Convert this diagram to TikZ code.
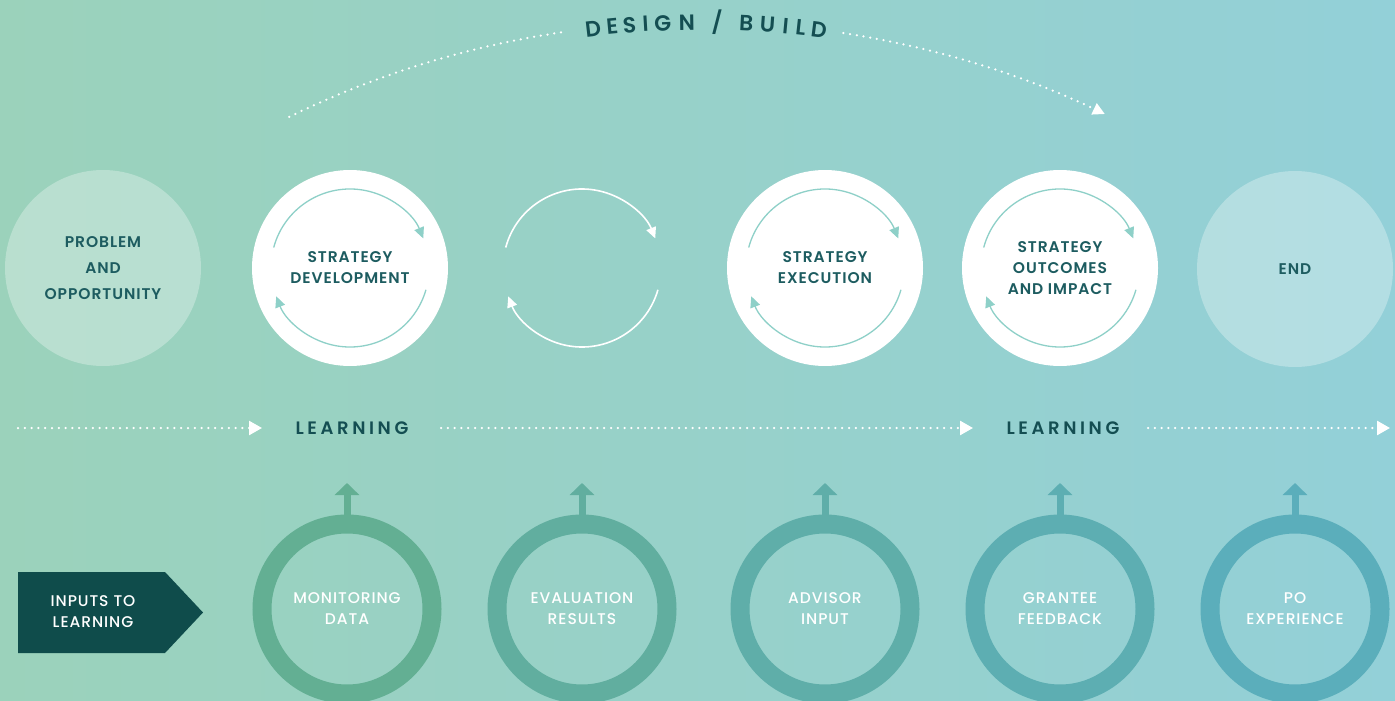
\documentclass[tikz,border=0pt]{standalone}
\usepackage{fontspec}
\setmainfont{Poppins}
\newfontfamily\circfam{Poppins SemiBold}[LetterSpace=6]
\newfontfamily\ringfam{Poppins Medium}[LetterSpace=6]
\newfontfamily\headfam{Poppins SemiBold}[LetterSpace=20]
\newfontfamily\designfam{Poppins SemiBold}
\usetikzlibrary{arrows.meta}
\definecolor{bgL}{HTML}{9BD2BB}
\definecolor{bgR}{HTML}{93D0D8}
\definecolor{darktxt}{HTML}{1D5C60}
\definecolor{headtxt}{HTML}{144E52}
\definecolor{inarrow}{HTML}{8ED0C8}
\definecolor{boxfill}{HTML}{0F4C4B}
\definecolor{ringA}{HTML}{63AF93}
\definecolor{ringB}{HTML}{61AE9F}
\definecolor{ringC}{HTML}{5FAEA9}
\definecolor{ringD}{HTML}{5DAEB2}
\definecolor{ringE}{HTML}{5BAEBB}
\newcommand\circlabelfont{\circfam\fontsize{15.5}{21}\selectfont}
\newcommand\ringlabelfont{\ringfam\fontsize{15.5}{21}\selectfont}
\newcommand\headfont{\headfam\fontsize{18}{20}\selectfont}
\newcommand\designfont{\designfam\fontsize{22}{24}\selectfont}
\begin{document}
\begin{tikzpicture}[x=1pt,y=1pt,
  bigc/.style={circle, minimum size=196pt, inner sep=0pt, align=center, text=darktxt, font=\circlabelfont},
  paleC/.style={bigc, fill=white, fill opacity=0.3, text opacity=1},
  whiteC/.style={bigc, fill=white},
  ringN/.style={circle, draw=#1, line width=19pt, minimum size=170pt, inner sep=0pt, align=center, text=white, font=\ringlabelfont, execute at begin node={\rule{0pt}{22pt}}},
  inarr/.style={draw=inarrow, line width=1.3pt, -{Triangle[length=11pt,width=10pt]}},
  wharr/.style={draw=white, line width=1.6pt, -{Triangle[length=11pt,width=10pt]}},
  dotline/.style={draw=white, line width=2.5pt, line cap=round, dash pattern=on 0pt off 6.8pt},
  dottip/.style={-{Triangle[length=13pt,width=14pt,fill=white]}},
  headlbl/.style={text=headtxt, font=\headfont, inner sep=0pt},
  letter/.style={text=headtxt, font=\designfont, inner sep=0pt, anchor=base},
  uparr/.style={line width=7pt, draw=#1, -{Triangle[length=12pt,width=24pt,fill=#1]}}
]
\useasboundingbox (0,0) rectangle (1395,-701);
\shade[left color=bgL,right color=bgR] (0,0) rectangle (1395,-701);

% design / build arc
\coordinate (dc) at (700,-959);
\coordinate (dstart) at ([shift={(116:937)}]dc);
\draw[dotline] (dstart) arc[start angle=116, end angle=98.4, radius=937];
\draw[dotline, -{Triangle[length=12pt,width=12pt,fill=white]}] ([shift={(81.2:937)}]dc) arc[start angle=81.2, end angle=64.4, radius=937];
\foreach \ch/\xx [count=\i] in {D/594,E/613,S/630,I/646,G/663,N/687,\slash/717,B/746,U/767,I/785,L/800,D/818}{
  \pgfmathsetmacro\ang{90-asin((\xx-700)/929)}
  \pgfmathsetmacro\rot{\ang-90}
  \node[letter, rotate=\rot] (dl\i) at ([shift={(\ang:929)}]dc) {\ch};
}

% top circles
\node[paleC] (prob) at (103,-268) {PROBLEM\\[5pt]AND\\[5pt]OPPORTUNITY};
\node[whiteC] (sd) at (350,-268) {STRATEGY\\DEVELOPMENT};
\coordinate (cyc) at (582,-268);
\node[whiteC] (se) at (825,-268) {STRATEGY\\EXECUTION};
\node[whiteC] (so) at (1060,-268) {STRATEGY\\OUTCOMES\\AND IMPACT};
\node[paleC] (endc) at (1295,-269) {END};

\foreach \n in {sd,se,so}{
  \draw[inarr] ([shift={(165:79)}]\n.center) arc[start angle=165, end angle=22, radius=79];
  \draw[inarr] ([shift={(-16:79)}]\n.center) arc[start angle=-16, end angle=-159, radius=79];
}
\draw[wharr] ([shift={(165:79)}]cyc) arc[start angle=165, end angle=22, radius=79];
\draw[wharr] ([shift={(-16:79)}]cyc) arc[start angle=-16, end angle=-159, radius=79];

% learning line
\node[headlbl] (learn1) at (352,-428) {LEARNING};
\node[headlbl] (learn2) at (1063,-428) {LEARNING};
\coordinate (l0) at (18,-428);
\coordinate (l1) at (262,-428);
\coordinate (l2) at (441,-428);
\coordinate (l3) at (973,-428);
\coordinate (l4) at (1148,-428);
\coordinate (l5) at (1390,-428);
\draw[dotline, dottip] (l0) -- (l1);
\draw[dotline, dottip] (l2) -- (l3);
\draw[dotline, dottip] (l4) -- (l5);

% inputs box
\fill[boxfill] (18,-572) -- (165,-572) -- (203,-612.5) -- (165,-653) -- (18,-653) -- cycle;
\node[text=white, font=\ringlabelfont, align=center, inner sep=0pt] (inp) at (93,-612) {INPUTS TO\\LEARNING};

% rings
\node[ringN=ringA] (r1) at (347,-609) {MONITORING\\DATA};
\node[ringN=ringB] (r2) at (582,-609) {EVALUATION\\RESULTS};
\node[ringN=ringC] (r3) at (825,-609) {ADVISOR\\INPUT};
\node[ringN=ringD] (r4) at (1060,-609) {GRANTEE\\FEEDBACK};
\node[ringN=ringE] (r5) at (1295,-609) {PO\\EXPERIENCE};
\coordinate (t1) at (347,-483);
\coordinate (t2) at (582,-483);
\coordinate (t3) at (825,-483);
\coordinate (t4) at (1060,-483);
\coordinate (t5) at (1295,-483);
\draw[uparr=ringA] (r1.north) -- (t1);
\draw[uparr=ringB] (r2.north) -- (t2);
\draw[uparr=ringC] (r3.north) -- (t3);
\draw[uparr=ringD] (r4.north) -- (t4);
\draw[uparr=ringE] (r5.north) -- (t5);
\end{tikzpicture}
\end{document}
